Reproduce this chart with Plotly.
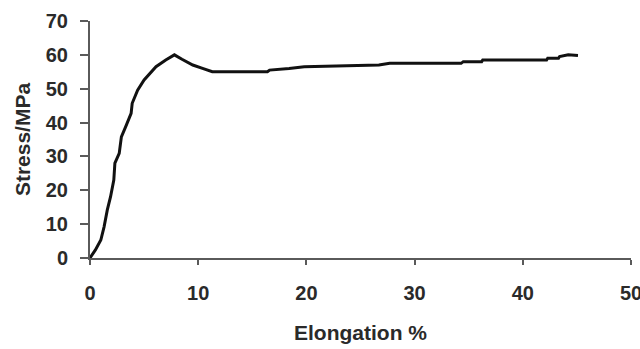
import plotly.graph_objects as go

elongation = [0.0, 0.5, 1.0, 1.3, 1.6, 1.9, 2.2, 2.3, 2.7, 2.9, 3.3, 3.8, 3.9, 4.4, 5.0, 5.5, 6.1,
              7.0, 7.8, 8.5, 9.5, 10.4, 11.3, 16.4, 16.6, 18.4, 19.8, 26.7, 27.7, 34.3, 34.5,
              36.2, 36.3, 42.2, 42.3, 43.3, 43.4, 44.2, 45.1]
stress = [0.0, 2.4, 5.3, 9.2, 14.2, 18.1, 23.0, 28.0, 30.9, 35.8, 38.8, 42.7, 45.7, 49.6, 52.6, 54.5, 56.5,
          58.5, 60.0, 58.7, 57.0, 56.0, 55.0, 55.0, 55.5, 56.0, 56.5, 57.0, 57.5, 57.5, 58.0,
          58.0, 58.5, 58.5, 59.0, 59.0, 59.5, 60.0, 59.8]

x_ticks = [0, 10, 20, 30, 40, 50]
y_ticks = [0, 10, 20, 30, 40, 50, 60, 70]

font_family = "Liberation Sans, Arial, sans-serif"
ink = "#2a2a2a"
axis_col = "#5a5a5a"

fig = go.Figure()
fig.add_trace(go.Scatter(x=elongation, y=stress, mode="lines",
                         line=dict(color="#111111", width=3), showlegend=False))

fig.update_layout(
    width=640, height=349,
    margin=dict(l=90, r=9, t=21, b=91),
    paper_bgcolor="white", plot_bgcolor="white",
    font=dict(family=font_family, color=ink, size=20, weight="bold"),
)
fig.update_xaxes(
    range=[0, 50], tickvals=x_ticks, showgrid=False, zeroline=False,
    showline=True, linecolor=axis_col, linewidth=2,
    ticks="outside", ticklen=5, tickwidth=1.5, tickcolor=axis_col,
    ticklabelstandoff=11, ticklabeloverflow="allow", automargin=False,
    tickfont=dict(family=font_family, size=20, color=ink, weight="bold"),
    title=dict(text="Elongation %", standoff=22,
               font=dict(family=font_family, size=21, color=ink, weight="bold")),
)
fig.update_yaxes(
    range=[0, 70], tickvals=y_ticks, showgrid=False, zeroline=False,
    showline=True, linecolor=axis_col, linewidth=2,
    ticks="outside", ticklen=8, tickwidth=1.5, tickcolor=axis_col,
    ticklabelstandoff=8, automargin=False,
    tickfont=dict(family=font_family, size=20, color=ink, weight="bold"),
    title=dict(text="Stress/MPa", standoff=9,
               font=dict(family=font_family, size=21, color=ink, weight="bold")),
)

fig.write_html("out.html")
